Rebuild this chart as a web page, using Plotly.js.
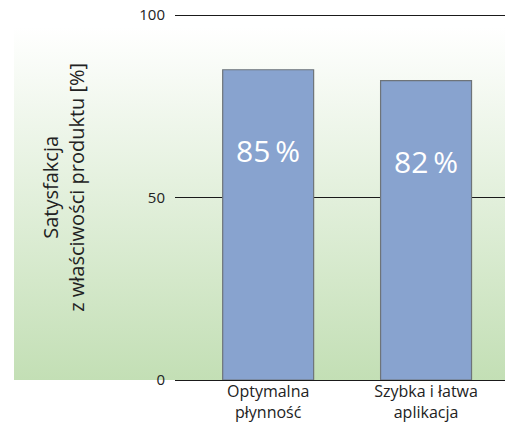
<!DOCTYPE html>
<html>
<head>
<meta charset="utf-8">
<script src="https://cdn.plot.ly/plotly-3.0.1.min.js"></script>
<style>
  html, body { margin: 0; padding: 0; background: #ffffff; }
  #chart { width: 505px; height: 430px; }
</style>
</head>
<body>
<div id="chart"></div>
<script>
// Data
const categories = ["Optymalna<br>płynność", "Szybka i łatwa<br>aplikacja"];
const satisfaction = [85, 82];
const valueLabels = satisfaction.map(v => v + "\u2009%");
const yTickValues = [0, 50, 100];
const yTickLabels = ["0", "50", "100"];
const yAxisTitle = "Satysfakcja<br>z właściwości produktu [%]";

const gradSvg = '<svg xmlns="http://www.w3.org/2000/svg" width="100" height="100" preserveAspectRatio="none">' +
  '<defs><linearGradient id="g" x1="0" y1="0" x2="0" y2="1">' +
  '<stop offset="0" stop-color="#ffffff"/><stop offset="1" stop-color="#c3dfb5"/>' +
  '</linearGradient></defs><rect width="100" height="100" fill="url(#g)"/></svg>';
const gradUri = 'data:image/svg+xml;base64,' + btoa(gradSvg);

const font = "'Open Sans', 'Noto Sans', sans-serif";

// plot area: top margin 13, bottom 50 -> 367 px; keep 3.65 px per unit
const yMax = 367 / 3.65;

const trace = {
  type: 'bar',
  x: [0, 1],
  y: satisfaction,
  width: 0.576,
  marker: { color: '#88a3cf', line: { color: '#6e7479', width: 1.2 } },
  hoverinfo: 'none'
};

const annotations = satisfaction.map((v, i) => ({
  x: i, y: v, xref: 'x', yref: 'y',
  text: valueLabels[i], showarrow: false,
  yshift: -81, yanchor: 'middle', xanchor: 'center',
  font: { family: font, size: 30, color: '#ffffff' }
}));
annotations.push({
  xref: 'paper', yref: 'paper', x: -0.338, y: 0.525,
  text: yAxisTitle, showarrow: false, textangle: -90,
  xanchor: 'center', yanchor: 'middle',
  font: { family: font, size: 20, color: '#222222' }
});

const imgTop = (380 - 27) / 367;
const imgLeft = (14 - 175) / 330;

const layout = {
  width: 505, height: 430,
  margin: { l: 175, r: 0, t: 13, b: 50, pad: 0 },
  paper_bgcolor: 'rgba(0,0,0,0)',
  plot_bgcolor: 'rgba(0,0,0,0)',
  showlegend: false,
  xaxis: {
    range: [-0.59, 1.5],
    tickmode: 'array', tickvals: [0, 1], ticktext: categories,
    showgrid: false, zeroline: false, showline: false, ticks: '',
    tickfont: { family: font, size: 16, color: '#222222' },
    fixedrange: true
  },
  yaxis: {
    range: [0, yMax],
    tickmode: 'array', tickvals: yTickValues, ticktext: yTickLabels,
    showgrid: true, gridcolor: '#1a1a1a', gridwidth: 1,
    zeroline: true, zerolinecolor: '#1a1a1a', zerolinewidth: 1,
    showline: false, ticks: '', ticklabelstandoff: 9,
    tickfont: { family: font, size: 15, color: '#222222' },
    fixedrange: true
  },
  images: [{
    source: gradUri, xref: 'paper', yref: 'paper',
    x: imgLeft, y: imgTop,
    sizex: 1 - imgLeft, sizey: imgTop,
    xanchor: 'left', yanchor: 'top', sizing: 'stretch', layer: 'below'
  }],
  annotations: annotations
};

Plotly.newPlot('chart', [trace], layout, { displayModeBar: false, staticPlot: true });
</script>
</body>
</html>
